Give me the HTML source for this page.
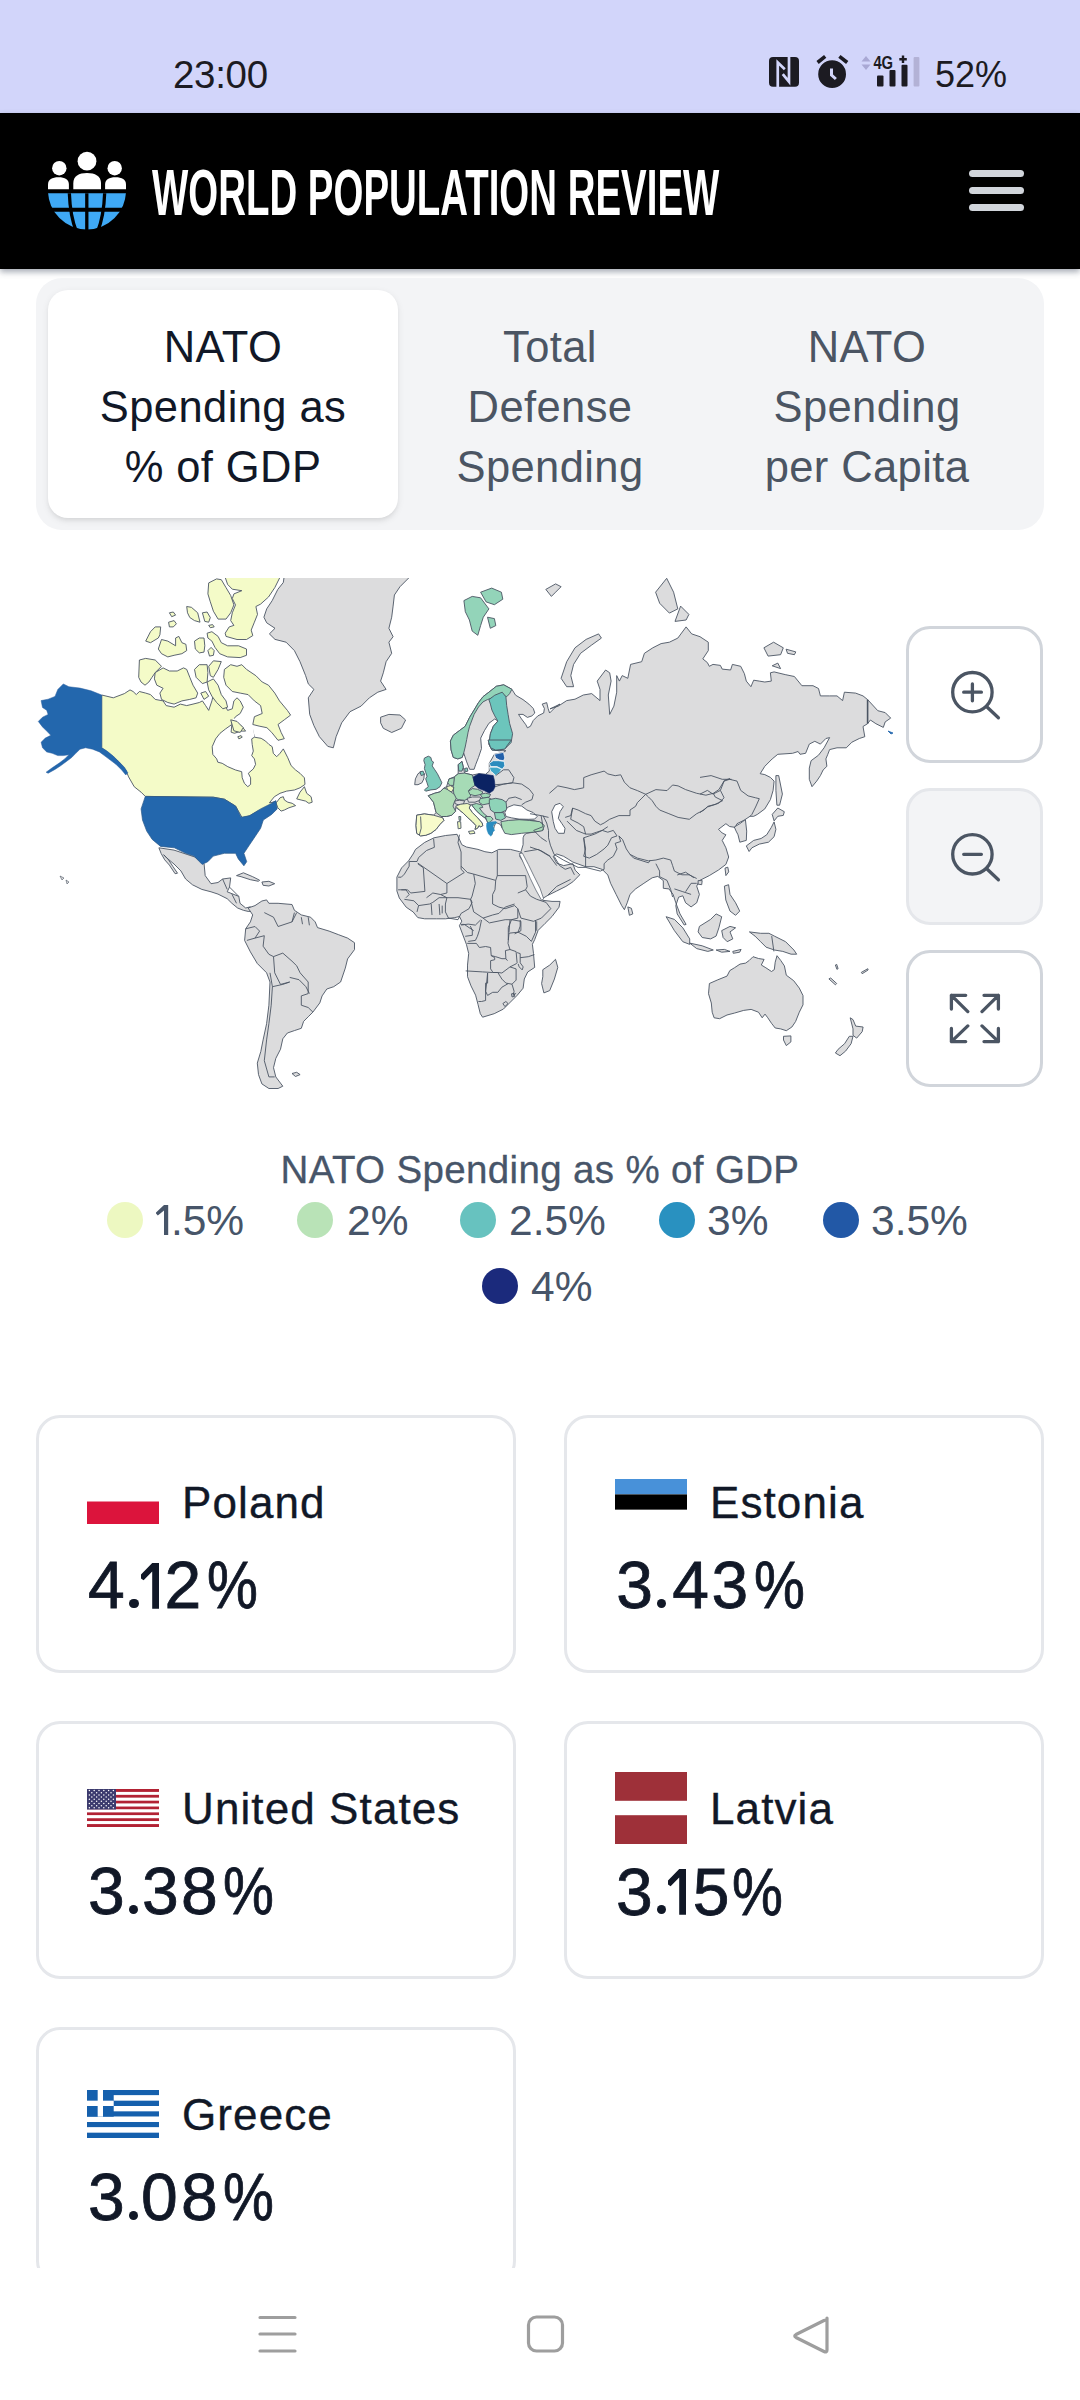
<!DOCTYPE html>
<html><head><meta charset="utf-8">
<style>
*{box-sizing:border-box;margin:0;padding:0}
html,body{width:1080px;height:2400px;overflow:hidden;background:#fff;font-family:"Liberation Sans",sans-serif}
.abs{position:absolute}
#status{left:0;top:0;width:1080px;height:113px;background:#d2d5fa}
#time{left:173px;top:52.5px;font-size:38.5px;color:#1c1b22;line-height:44px;letter-spacing:-0.3px}
#batt{left:935px;top:54.5px;font-size:36px;color:#1c1b22;line-height:40px}
#hdr{left:0;top:113px;width:1080px;height:156px;background:#000;box-shadow:0 3px 6px rgba(60,70,90,0.45)}
#title{left:152px;top:157.6px;font-size:64.5px;line-height:70px;color:#fff;font-weight:bold;transform-origin:0 0;transform:scaleX(0.596);white-space:nowrap;letter-spacing:0}
.hb{left:969px;width:55px;height:7px;border-radius:4px;background:#d1d5db}
#tabs{left:36px;top:278px;width:1008px;height:252px;background:#f3f4f6;border-radius:26px}
.tab{top:290px;height:228px;text-align:center;font-size:43.5px;line-height:60px;color:#4b5563;padding-top:26.5px;letter-spacing:0.4px}
#tab1{left:48px;width:350px;background:#fff;border-radius:20px;color:#111827;box-shadow:0 2.6px 7.9px rgba(0,0,0,0.08),0 2.6px 5.2px -2.6px rgba(0,0,0,0.08)}
#tab2{left:398px;width:304px}
#tab3{left:702px;width:330px}
.zb{left:906px;width:137px;height:137px;border:3px solid #d1d5db;border-radius:24px;background:#fff}
#legtitle{left:0;width:1080px;top:1148px;text-align:center;font-size:38.5px;line-height:44px;color:#475569;letter-spacing:0.35px;-webkit-text-stroke:0.3px #475569}
.dot{width:36px;height:36px;border-radius:50%}
.lt{font-size:42.5px;line-height:50px;color:#475569;white-space:nowrap}
.card{width:480px;height:258px;border:3px solid #e5e7eb;border-radius:24px;background:#fff}
.cname{font-size:44px;line-height:50px;color:#111827;white-space:nowrap;letter-spacing:1.1px;-webkit-text-stroke:0.35px #111827}
.cval{font-size:66px;line-height:70px;color:#111827;-webkit-text-stroke:0.8px #111827;white-space:nowrap}
#nav{left:0;top:2268px;width:1080px;height:132px;background:#fff}
</style></head><body>
<div id="status" class="abs"></div>
<div id="time" class="abs">23:00</div>
<!-- status icons -->
<svg class="abs" style="left:760px;top:40px" width="180" height="60" viewBox="0 0 180 60">
  <rect x="9" y="17" width="30" height="29.7" rx="4" fill="#1c1b22"/>
  <path d="M17.75 48 V22.5 L24.8 29.2 M29 15.5 V41.7 L22.75 34.2" stroke="#d2d5fa" stroke-width="2.7" fill="none" stroke-linejoin="miter"/>
  <path d="M57.6 22.5 L65.2 16.3 M79.4 16.3 L87.2 22.5" stroke="#1c1b22" stroke-width="3.6"/>
  <circle cx="72.1" cy="34.2" r="14.7" fill="#1c1b22" stroke="#d2d5fa" stroke-width="1.6"/>
  <path d="M71.5 28.5 V35 L75.9 39" stroke="#d2d5fa" stroke-width="3" fill="none"/>
  <path d="M101.5 21.5 l4.5 -5.5 l4.5 5.5z M101.5 24.5 l4.5 5.5 l4.5 -5.5z" fill="#a9a8d4"/>
  <text x="113.6" y="29.4" font-family="Liberation Sans" font-weight="bold" font-size="18" fill="#1c1b22" transform="translate(113.6 0) scale(0.82 1) translate(-113.6 0)" letter-spacing="-0.5">4G</text>
  <path d="M143 15.5 v7.5 M139.3 19.2 h7.5" stroke="#1c1b22" stroke-width="2.4"/>
  <rect x="117" y="35.6" width="6.5" height="11" rx="1" fill="#1c1b22"/>
  <rect x="129.5" y="30" width="6" height="16.5" rx="1" fill="#1c1b22"/>
  <rect x="141.5" y="24.8" width="6" height="21.7" rx="1" fill="#1c1b22"/>
  <rect x="153.6" y="17" width="5.8" height="29.5" rx="1" fill="#b3b2d6"/>
</svg>
<div id="batt" class="abs">52%</div>

<div id="hdr" class="abs"></div>
<!-- logo -->
<svg class="abs" style="left:44px;top:148px" width="88" height="88" viewBox="0 0 88 88">
  <defs><clipPath id="gl"><path d="M0 45.2 h88 v45 h-88z"/></clipPath></defs>
  <circle cx="43" cy="42.5" r="39" fill="#3fa9f5" clip-path="url(#gl)"/>
  <g stroke="#000" stroke-width="4" fill="none" clip-path="url(#gl)">
    <path d="M0 61.7 h88"/>
    <path d="M42.8 44 v40" stroke-width="3.3"/>
    <path d="M25.3 44 Q26 68 32.5 84 M60.7 44 Q60 68 53.5 84" stroke-width="3.3"/>
  </g>
  <circle cx="43" cy="13.2" r="9.4" fill="#fff"/>
  <circle cx="15.3" cy="20.2" r="7.2" fill="#fff"/>
  <circle cx="70.7" cy="20.2" r="7.2" fill="#fff"/>
  <path d="M29.3 41.2 V35 C29.3 28 35 24.9 43 24.9 C51 24.9 57 28 57 35 V41.2 Z" fill="#fff"/>
  <path d="M4 41.2 V36.5 C4 31.5 8 29.3 14.5 29.3 C21 29.3 24.9 31.5 24.9 36.5 V41.2Z" fill="#fff"/>
  <path d="M61.1 41.2 V36.5 C61.1 31.5 65 29.3 71.5 29.3 C78 29.3 82 31.5 82 36.5 V41.2Z" fill="#fff"/>
</svg>
<div id="title" class="abs">WORLD POPULATION REVIEW</div>
<div class="abs hb" style="top:170px"></div>
<div class="abs hb" style="top:187px"></div>
<div class="abs hb" style="top:204px"></div>

<div id="tabs" class="abs"></div>
<div id="tab1" class="abs tab">NATO<br>Spending as<br>% of GDP</div>
<div id="tab2" class="abs tab">Total<br>Defense<br>Spending</div>
<div id="tab3" class="abs tab">NATO<br>Spending<br>per Capita</div>

<svg class="abs" style="left:0;top:0" width="1080" height="1100" viewBox="0 0 1080 1100">
<defs><clipPath id="mc"><rect x="0" y="578" width="1080" height="522"/></clipPath></defs>
<g clip-path="url(#mc)" stroke-linejoin="round">
<path d="M505.9 750.7 L499.3 750.7 L491.9 750.0 L488.9 744.1 L490.4 733.7 L493.3 726.3 L497.8 721.1 L494.8 718.9 L488.9 723.3 L484.4 730.7 L480.7 738.1 L481.5 748.5 L478.5 757.4 L475.6 764.8 L474.1 769.3 L469.6 769.3 L466.7 761.9 L463.7 753.0 L462.2 757.4 L457.8 758.9 L453.3 757.4 L451.1 750.0 L450.4 741.1 L453.3 735.2 L459.3 730.7 L465.2 726.3 L469.6 717.4 L474.1 710.0 L478.5 702.6 L483.0 696.7 L488.9 692.2 L496.3 686.3 L503.7 684.8 L511.9 689.3 L515.6 695.2 L523.0 699.6 L528.9 704.1 L533.3 708.5 L534.8 713.0 L531.9 715.9 L527.4 717.4 L523.0 714.4 L518.5 714.4 L521.5 718.9 L525.9 724.8 L527.4 727.8 L530.4 726.3 L533.3 720.4 L537.8 715.9 L543.7 713.0 L544.4 708.5 L542.2 704.1 L546.7 702.6 L548.1 708.5 L549.6 713.0 L555.6 707.0 L560.0 704.1 L550.0 708.9 L558.3 706.1 L566.7 700.6 L575.0 699.2 L583.3 695.0 L591.7 693.6 L600.0 700.6 L600.0 689.4 L597.2 681.1 L605.6 670.0 L609.7 672.8 L611.1 681.1 L608.3 695.0 L609.7 714.4 L613.9 706.1 L616.7 692.2 L616.7 675.6 L619.4 681.1 L622.2 675.6 L627.8 678.3 L630.6 664.4 L641.7 661.7 L644.4 653.3 L652.8 647.8 L661.1 643.6 L669.4 642.2 L677.8 638.1 L686.1 626.9 L691.7 633.9 L700.0 636.7 L708.3 642.2 L708.3 650.6 L702.8 658.9 L707.4 662.6 L709.3 666.3 L713.0 664.4 L720.4 665.4 L722.2 669.1 L730.6 670.0 L732.4 664.4 L740.7 666.3 L744.4 673.7 L746.3 681.1 L750.9 686.7 L753.7 680.2 L759.3 681.1 L764.8 682.0 L771.3 681.1 L770.4 672.8 L774.1 671.9 L785.2 674.6 L794.4 676.5 L801.9 685.7 L813.0 685.7 L818.5 688.5 L820.4 695.9 L829.6 695.9 L837.0 695.9 L842.6 700.6 L844.4 692.2 L855.6 693.1 L863.0 695.9 L867.6 699.6 L877.8 710.7 L885.2 712.6 L890.7 718.1 L885.2 721.9 L883.3 727.4 L875.9 723.7 L870.4 720.0 L867.6 723.7 L863.0 726.5 L864.8 736.7 L859.3 738.5 L851.9 742.2 L846.3 747.8 L837.0 747.8 L829.6 749.6 L827.8 754.3 L825.9 758.9 L826.9 766.3 L823.1 770.0 L820.4 775.6 L816.7 781.1 L812.0 786.7 L809.3 779.3 L809.3 768.1 L811.1 760.7 L818.5 755.2 L824.1 747.8 L829.6 737.6 L825.9 738.5 L820.4 744.1 L814.8 741.3 L809.3 744.1 L805.6 753.3 L800.0 754.3 L798.1 751.5 L792.6 753.3 L777.8 754.3 L772.2 758.9 L764.8 766.3 L760.2 773.7 L764.8 774.6 L770.4 777.4 L774.1 781.1 L773.1 790.4 L770.4 799.6 L764.8 808.9 L757.4 814.4 L753.7 816.3 L750.0 816.3 L744.4 820.0 L737.0 823.7 L735.2 827.4 L729.6 826.5 L725.9 823.7 L718.5 829.3 L722.2 833.0 L725.9 834.8 L722.2 840.4 L725.9 847.8 L728.7 857.0 L725.9 864.4 L718.5 870.0 L709.3 875.6 L699.4 880.6 L696.7 886.1 L699.4 894.4 L696.7 902.8 L691.1 906.9 L685.6 902.8 L682.8 895.8 L678.6 897.2 L675.8 905.6 L677.2 913.9 L684.2 925.0 L686.1 924.4 L680.0 913.9 L675.8 902.8 L673.1 894.4 L668.9 888.9 L663.3 888.3 L663.3 880.6 L657.8 876.4 L652.2 877.8 L643.9 883.3 L635.6 888.9 L630.0 894.4 L627.2 902.8 L624.4 909.7 L621.7 905.6 L616.1 894.4 L610.6 883.3 L607.8 875.0 L602.2 869.4 L593.9 866.7 L585.6 866.7 L572.9 862.1 L568.2 859.1 L563.6 856.3 L556.7 854.0 L553.2 856.3 L556.7 863.2 L563.6 865.6 L572.9 863.7 L575.2 870.2 L579.8 874.8 L572.9 881.8 L565.9 886.4 L556.7 891.0 L547.4 895.6 L541.6 899.1 L535.8 888.7 L531.2 877.1 L526.6 865.6 L521.9 855.1 L521.0 851.7 L523.1 844.7 L523.1 837.8 L524.2 835.0 L526.7 833.3 L536.7 831.7 L543.3 830.0 L542.5 823.3 L535.0 820.8 L526.7 820.0 L516.7 820.0 L508.3 821.7 L501.7 825.0 L502.5 828.3 L500.0 824.2 L495.8 822.5 L494.2 826.7 L493.3 830.0 L491.7 835.0 L490.0 833.3 L487.5 828.3 L487.5 823.3 L488.0 823.0 L486.7 820.4 L485.1 818.0 L480.8 814.9 L476.3 810.7 L473.1 806.8 L471.8 804.8 L470.5 804.8 L469.2 808.1 L472.4 812.6 L477.6 817.8 L482.1 823.0 L482.8 825.6 L480.8 826.9 L478.9 825.6 L477.6 828.2 L475.0 829.4 L476.0 825.6 L472.4 821.7 L467.2 817.1 L463.3 813.2 L459.4 810.0 L455.6 807.4 L455.6 811.3 L451.7 815.2 L446.5 816.5 L441.3 816.5 L442.6 817.8 L443.9 820.4 L440.0 824.3 L436.1 829.4 L430.9 833.3 L425.7 835.3 L420.6 835.9 L416.7 833.3 L416.0 825.6 L416.7 815.2 L424.4 813.9 L433.5 815.2 L436.1 812.6 L434.8 807.4 L433.5 802.2 L428.3 795.7 L434.8 793.2 L440.0 791.9 L443.9 788.0 L446.5 786.7 L447.8 782.8 L449.1 778.9 L454.3 776.9 L458.2 773.7 L458.2 764.6 L462.0 761.4 L463.3 767.2 L464.6 773.1 L472.4 775.0 L478.9 773.7 L485.4 774.4 L489.3 771.1 L489.3 767.2 L489.3 763.3 L494.4 754.3 L503.5 752.3Z" fill="#dcdcdd" stroke="#4b5563" stroke-width="0.9"/>
<path d="M415.5 849.4 L424.7 842.4 L434.0 837.8 L445.6 835.5 L457.1 834.3 L461.8 844.7 L466.4 847.0 L478.0 849.4 L484.9 851.7 L491.9 852.8 L498.8 849.4 L510.4 849.4 L519.6 851.7 L521.0 852.4 L519.6 856.3 L524.3 863.2 L528.9 872.5 L533.5 881.8 L540.5 893.3 L542.8 900.3 L552.0 901.4 L560.1 901.4 L559.0 907.2 L552.0 916.5 L545.1 923.4 L538.1 930.4 L534.7 939.6 L532.4 944.3 L533.5 953.5 L534.7 967.4 L527.7 972.0 L524.3 979.0 L523.1 988.2 L517.3 995.2 L510.4 1002.1 L503.4 1009.1 L494.2 1013.7 L482.6 1017.2 L480.3 1013.7 L478.0 1004.4 L475.6 995.2 L471.0 985.9 L467.5 976.7 L467.5 965.1 L468.7 953.5 L466.4 944.3 L462.9 935.0 L459.4 925.7 L461.8 921.1 L459.4 916.5 L454.8 917.6 L445.6 918.8 L436.3 918.8 L424.7 918.8 L417.8 917.6 L413.1 911.9 L406.2 907.2 L399.3 898.0 L396.9 891.0 L396.9 877.1 L401.6 867.9 L408.5 860.9 L413.1 854.0Z" fill="#dcdcdd" stroke="#4b5563" stroke-width="0.9"/>
<path d="M542.8 969.7 L549.7 965.1 L555.5 959.3 L557.8 967.4 L554.4 979.0 L549.7 990.6 L543.9 992.9 L541.6 983.6 L542.8 976.7Z" fill="#dcdcdd" stroke="#4b5563" stroke-width="0.9"/>
<path d="M519.2 853.5 L522.4 853.1 L528.4 864.6 L534.0 876.2 L540.0 888.2 L543.7 898.9 L541.6 900.3 L535.8 889.9 L530.3 878.5 L525.2 866.9Z" fill="#fff" stroke="#4b5563" stroke-width="0.7"/>
<path d="M551.7 811.7 L555.0 805.0 L560.0 803.3 L563.3 806.7 L560.0 811.7 L558.3 818.3 L561.7 823.3 L565.0 828.3 L564.2 833.3 L558.3 833.3 L555.0 828.3 L553.3 821.7Z" fill="#fff" stroke="#4b5563" stroke-width="0.9"/>
<path d="M158.9 847.8 L174.0 850.1 L187.9 854.7 L194.8 857.0 L204.1 864.0 L205.2 875.6 L211.0 883.7 L218.0 882.5 L222.6 879.0 L230.7 877.9 L229.5 887.1 L227.2 891.8 L233.0 894.1 L238.8 896.4 L240.0 903.3 L245.7 908.0 L250.4 906.8 L252.7 911.4 L248.1 911.4 L243.4 910.3 L237.6 908.0 L231.9 903.3 L227.2 898.7 L218.0 894.1 L211.0 891.8 L201.8 889.4 L192.5 884.8 L185.6 879.0 L180.9 870.9 L174.0 864.0 L167.0 858.2 L163.6 854.7 L168.2 859.4 L172.8 866.3 L177.5 873.2 L175.1 873.7 L169.4 865.1 L164.7 859.8 L161.2 853.6Z" fill="#dcdcdd" stroke="#4b5563" stroke-width="0.9"/>
<path d="M236.5 875.6 L243.4 872.8 L252.7 876.7 L259.6 880.2 L258.5 881.3 L250.4 879.7 L241.1 876.7Z" fill="#dcdcdd" stroke="#4b5563" stroke-width="0.9"/>
<path d="M261.9 882.0 L268.9 881.3 L274.7 883.7 L268.9 886.0 L263.1 885.3Z" fill="#dcdcdd" stroke="#4b5563" stroke-width="0.9"/>
<path d="M248.1 908.0 L255.0 905.6 L261.9 901.0 L266.6 899.9 L268.9 903.3 L278.1 903.3 L292.0 904.5 L294.4 910.3 L301.3 914.9 L310.6 917.2 L315.2 921.9 L317.5 927.6 L329.1 931.1 L338.3 934.6 L347.6 938.1 L354.5 942.7 L354.5 949.6 L347.6 958.9 L345.3 968.1 L340.6 982.0 L333.7 986.7 L326.8 989.0 L322.1 995.9 L319.8 1002.9 L312.9 1012.1 L308.2 1016.8 L303.6 1021.4 L301.3 1028.3 L294.4 1030.6 L287.4 1033.0 L282.8 1038.8 L280.5 1049.2 L275.8 1058.4 L273.5 1067.7 L275.8 1076.9 L282.8 1086.2 L278.1 1088.5 L268.9 1088.5 L261.9 1083.9 L258.5 1074.6 L257.3 1063.1 L260.8 1051.5 L263.1 1039.9 L266.6 1023.7 L268.9 1005.2 L270.0 982.0 L266.6 972.8 L257.3 963.5 L250.4 951.9 L244.6 940.4 L245.7 928.8 L250.4 921.9 L252.7 914.9Z" fill="#dcdcdd" stroke="#4b5563" stroke-width="0.9"/>
<path d="M292.0 1073.5 L296.7 1072.3 L300.1 1074.6 L295.5 1076.5Z" fill="#dcdcdd" stroke="#4b5563" stroke-width="0.9"/>
<path d="M284.7 572.8 L413.9 572.8 L400.0 586.7 L394.4 595.0 L393.1 606.1 L391.7 617.2 L388.9 628.3 L393.1 636.7 L388.9 642.2 L391.7 653.3 L386.1 661.7 L383.3 672.8 L380.6 681.1 L386.1 689.4 L377.8 692.2 L369.4 697.8 L361.1 706.1 L350.0 711.7 L341.7 722.8 L336.1 736.7 L333.3 747.8 L327.8 746.4 L319.4 736.7 L313.9 725.6 L309.7 714.4 L308.3 697.8 L313.9 689.4 L308.3 683.9 L305.6 675.6 L300.0 661.7 L294.4 650.6 L286.1 642.2 L275.0 639.4 L269.4 633.9 L275.0 628.3 L266.7 622.8 L263.9 617.2 L266.7 608.9 L272.2 600.6 L277.8 589.4 L283.3 582.5Z" fill="#dcdcdd" stroke="#4b5563" stroke-width="0.9"/>
<path d="M380.6 717.2 L388.9 714.4 L400.0 715.0 L405.6 720.0 L401.4 728.3 L391.7 732.5 L383.3 728.3 L380.6 722.8Z" fill="#dcdcdd" stroke="#4b5563" stroke-width="0.9"/>
<path d="M561.1 678.3 L566.7 661.7 L575.0 647.8 L586.1 639.4 L598.6 633.9 L601.4 638.1 L591.7 645.0 L580.6 653.3 L573.6 664.4 L570.8 675.6 L573.6 686.7 L566.7 686.7Z" fill="#dcdcdd" stroke="#4b5563" stroke-width="0.9"/>
<path d="M545.8 589.4 L555.6 583.9 L561.1 586.7 L555.6 592.2 L551.4 596.4Z" fill="#dcdcdd" stroke="#4b5563" stroke-width="0.9"/>
<path d="M655.6 592.2 L666.7 578.3 L673.6 592.2 L677.8 608.9 L669.4 613.1 L659.7 603.3Z" fill="#dcdcdd" stroke="#4b5563" stroke-width="0.9"/>
<path d="M675.0 621.4 L680.6 606.1 L688.9 614.4 L686.1 620.0Z" fill="#dcdcdd" stroke="#4b5563" stroke-width="0.9"/>
<path d="M763.9 647.8 L773.6 642.2 L783.3 647.8 L780.6 654.7 L768.1 656.1Z" fill="#dcdcdd" stroke="#4b5563" stroke-width="0.9"/>
<path d="M786.1 649.2 L795.8 651.9 L794.4 654.7 L787.5 653.3Z" fill="#dcdcdd" stroke="#4b5563" stroke-width="0.9"/>
<path d="M772.2 665.8 L777.8 663.1 L780.6 668.6Z" fill="#dcdcdd" stroke="#4b5563" stroke-width="0.9"/>
<path d="M734.3 827.0 L739.8 823.7 L745.4 819.6 L746.7 831.1 L746.3 840.4 L739.8 842.2 L738.0 834.8 L736.1 831.1Z" fill="#dcdcdd" stroke="#4b5563" stroke-width="0.9"/>
<path d="M775.9 775.6 L778.7 775.6 L782.4 794.1 L779.6 805.2 L776.9 805.2 L775.9 790.4Z" fill="#dcdcdd" stroke="#4b5563" stroke-width="0.9"/>
<path d="M772.2 814.4 L777.8 808.0 L784.3 811.7 L783.3 815.4 L777.8 816.3 L774.1 820.9Z" fill="#dcdcdd" stroke="#4b5563" stroke-width="0.9"/>
<path d="M774.1 821.9 L775.9 829.3 L774.1 836.7 L768.5 842.2 L759.3 844.1 L751.9 847.8 L749.1 851.5 L746.3 845.9 L753.7 840.4 L761.1 838.5 L766.7 834.8 L771.3 827.4Z" fill="#dcdcdd" stroke="#4b5563" stroke-width="0.9"/>
<path d="M725.0 868.1 L727.8 867.2 L728.7 871.9 L725.9 875.6Z" fill="#dcdcdd" stroke="#4b5563" stroke-width="0.9"/>
<path d="M724.4 886.1 L728.6 884.7 L730.0 894.4 L735.6 902.8 L739.7 911.1 L735.6 915.3 L730.0 911.1 L725.8 900.0Z" fill="#dcdcdd" stroke="#4b5563" stroke-width="0.9"/>
<path d="M627.8 906.9 L631.4 908.3 L632.8 913.9 L629.4 915.3Z" fill="#dcdcdd" stroke="#4b5563" stroke-width="0.9"/>
<path d="M698.1 880.6 L702.2 880.6 L701.7 884.7 L698.1 884.2Z" fill="#dcdcdd" stroke="#4b5563" stroke-width="0.9"/>
<path d="M666.1 916.7 L674.4 919.4 L682.8 927.8 L689.7 938.9 L689.7 944.4 L682.8 941.7 L674.4 930.6Z" fill="#dcdcdd" stroke="#4b5563" stroke-width="0.9"/>
<path d="M689.7 943.1 L702.2 945.8 L713.3 950.0 L707.8 951.4 L696.7 948.6Z" fill="#dcdcdd" stroke="#4b5563" stroke-width="0.9"/>
<path d="M699.4 926.4 L710.6 919.4 L716.1 913.9 L721.7 916.7 L718.9 927.8 L716.1 936.1 L710.6 938.9 L702.2 937.5 L698.1 931.9Z" fill="#dcdcdd" stroke="#4b5563" stroke-width="0.9"/>
<path d="M721.7 930.6 L730.0 926.4 L735.6 927.8 L730.0 931.9 L732.8 938.9 L727.2 941.7 L723.1 937.5Z" fill="#dcdcdd" stroke="#4b5563" stroke-width="0.9"/>
<path d="M749.4 931.9 L760.6 933.3 L768.9 933.3 L774.4 936.1 L785.6 941.7 L793.9 950.0 L796.7 954.2 L791.1 954.2 L782.8 951.4 L774.4 950.0 L766.1 947.2 L760.6 941.7 L755.0 936.1Z" fill="#dcdcdd" stroke="#4b5563" stroke-width="0.9"/>
<path d="M716.1 950.0 L724.4 949.4 L730.0 951.4 L721.7 952.2Z" fill="#dcdcdd" stroke="#4b5563" stroke-width="0.9"/>
<path d="M732.8 951.4 L741.1 949.4 L739.7 952.2 L733.3 953.3Z" fill="#dcdcdd" stroke="#4b5563" stroke-width="0.9"/>
<path d="M709.4 983.5 L717.8 979.8 L727.0 976.1 L729.8 970.6 L734.4 967.8 L740.0 964.1 L745.6 963.1 L749.3 960.4 L753.0 956.7 L758.5 958.5 L764.1 959.4 L761.3 965.0 L765.9 967.8 L771.5 971.5 L774.3 969.6 L775.2 962.2 L777.0 955.7 L780.7 960.4 L784.4 965.9 L786.3 975.2 L793.7 980.7 L799.3 988.1 L803.0 995.6 L803.0 1004.8 L799.3 1012.2 L795.6 1021.5 L791.9 1027.0 L786.3 1030.7 L780.7 1028.9 L775.2 1028.0 L771.5 1023.3 L767.8 1017.8 L765.0 1014.1 L762.2 1017.8 L758.5 1012.2 L751.1 1009.4 L743.7 1010.4 L734.4 1013.1 L727.0 1015.0 L719.6 1018.7 L714.1 1017.8 L712.2 1012.2 L711.3 1003.0 L708.5 993.7Z" fill="#dcdcdd" stroke="#4b5563" stroke-width="0.9"/>
<path d="M783.5 1036.3 L790.9 1035.9 L790.9 1041.9 L786.3 1045.6 L783.5 1040.0Z" fill="#dcdcdd" stroke="#4b5563" stroke-width="0.9"/>
<path d="M850.2 1017.8 L853.0 1019.6 L855.7 1026.1 L863.1 1027.0 L862.2 1031.7 L856.7 1038.1 L853.0 1035.4 L853.0 1028.9Z" fill="#dcdcdd" stroke="#4b5563" stroke-width="0.9"/>
<path d="M849.3 1036.3 L853.0 1036.3 L851.1 1043.7 L845.6 1051.1 L840.0 1055.7 L835.4 1053.0 L838.1 1049.3 L844.6 1043.7Z" fill="#dcdcdd" stroke="#4b5563" stroke-width="0.9"/>
<path d="M828.9 978.9 L830.7 978.0 L836.7 983.5 L835.4 984.8Z" fill="#dcdcdd" stroke="#4b5563" stroke-width="0.9"/>
<path d="M861.3 972.4 L867.8 968.7 L868.1 970.0 L862.2 973.7Z" fill="#dcdcdd" stroke="#4b5563" stroke-width="0.9"/>
<path d="M835.4 965.0 L836.7 964.4 L838.1 968.7 L836.9 969.3Z" fill="#dcdcdd" stroke="#4b5563" stroke-width="0.9"/>
<path d="M101.7 695.0 L113.3 697.8 L124.4 693.6 L130.0 689.9 L133.1 691.5 L136.3 694.6 L139.4 691.5 L145.7 693.1 L150.5 694.6 L155.2 699.4 L163.1 700.9 L166.2 705.6 L174.1 707.2 L180.4 704.1 L186.7 705.6 L193.0 704.1 L199.3 702.5 L202.4 700.9 L205.6 705.6 L208.7 710.4 L211.9 700.9 L213.4 694.6 L218.1 699.4 L224.4 704.1 L227.6 710.4 L232.3 708.8 L233.9 700.9 L237.0 697.8 L240.2 700.9 L243.3 707.2 L240.2 713.5 L235.5 716.7 L233.3 720.0 L251.7 725.6 L254.4 737.2 L261.1 738.3 L265.6 741.1 L268.9 744.4 L272.2 746.7 L273.3 753.3 L276.7 756.7 L280.0 753.3 L283.3 748.9 L287.8 757.8 L291.1 765.6 L295.6 770.0 L300.0 773.3 L304.4 777.8 L305.0 784.4 L300.0 787.8 L294.4 790.0 L286.7 791.1 L280.0 793.3 L274.4 796.7 L269.4 802.8 L275.6 801.7 L277.8 807.8 L281.1 811.1 L284.4 810.0 L288.9 807.8 L295.6 805.6 L292.2 803.3 L287.8 802.2 L284.4 800.0 L283.3 796.7 L280.0 797.8 L276.7 802.2 L273.3 802.2 L268.9 808.9 L257.8 811.1 L250.0 815.6 L242.2 817.8 L235.6 806.1 L224.4 799.2 L213.3 797.2 L145.3 796.4 L141.1 792.2 L134.2 786.7 L128.6 776.9 L125.8 770.0 L118.9 761.7 L110.6 754.7 L101.7 747.8Z" fill="#f4fbc8" stroke="#4b5563" stroke-width="0.9"/>
<path d="M233.3 718.3 L252.8 723.9 L254.4 737.2 L251.7 738.9 L252.2 744.4 L253.3 751.1 L251.7 755.6 L254.4 758.9 L255.6 764.4 L253.3 768.9 L248.3 773.3 L250.6 777.8 L250.6 784.4 L247.8 786.7 L244.4 783.3 L242.2 777.8 L241.7 771.7 L235.6 770.0 L227.8 766.7 L222.2 763.3 L217.8 762.2 L216.7 758.9 L212.8 754.4 L212.2 746.7 L215.6 738.9 L220.0 733.3 L225.6 728.9 L231.1 725.0Z" fill="#fff" stroke="none" stroke-width="0"/>
<path d="M254.4 737.2 L251.7 738.9 L252.2 744.4 L253.3 751.1 L251.7 755.6 L254.4 758.9 L255.6 764.4 L253.3 768.9 L248.3 773.3 L250.6 777.8 L250.6 784.4 L247.8 786.7 L244.4 783.3 L242.2 777.8 L241.7 771.7 L235.6 770.0 L227.8 766.7 L222.2 763.3 L217.8 762.2 L216.7 758.9 L212.8 754.4 L212.2 746.7 L215.6 738.9 L220.0 733.3 L225.6 728.9 L231.1 725.0 L231.1 725.0" fill="none" stroke="#4b5563" stroke-width="0.9"/>
<path d="M232.2 721.1 L235.6 721.7 L242.2 726.7 L245.6 731.1 L241.1 731.1 L234.4 733.3 L231.1 732.2Z" fill="#f4fbc8" stroke="#4b5563" stroke-width="0.9"/>
<path d="M296.7 798.9 L300.0 792.2 L304.4 786.7 L306.7 793.3 L311.1 796.7 L312.2 802.2 L308.9 803.3 L305.6 801.1 L301.1 800.0Z" fill="#f4fbc8" stroke="#4b5563" stroke-width="0.9"/>
<path d="M237.8 736.7 L241.1 735.6 L242.2 737.2 L238.9 738.9Z" fill="#f4fbc8" stroke="#4b5563" stroke-width="0.9"/>
<path d="M208.7 582.9 L216.6 578.9 L221.3 579.7 L226.0 587.6 L230.7 595.5 L233.9 604.9 L230.7 612.8 L226.0 619.1 L218.1 619.1 L213.4 611.2 L210.3 601.8 L207.9 593.9Z" fill="#f4fbc8" stroke="#4b5563" stroke-width="0.9"/>
<path d="M224.4 575.0 L281.1 575.0 L274.8 587.6 L268.5 597.0 L260.6 604.1 L255.9 606.5 L257.5 614.4 L254.4 622.2 L251.2 630.1 L252.8 635.6 L246.5 639.5 L237.0 639.5 L226.0 636.4 L225.2 633.2 L229.2 626.9 L233.9 625.4 L230.7 620.6 L232.3 612.8 L235.5 604.9 L232.3 598.6 L233.9 593.9 L241.8 590.7 L232.3 589.2 L227.6 584.4Z" fill="#f4fbc8" stroke="#4b5563" stroke-width="0.9"/>
<path d="M207.1 633.2 L211.9 631.7 L218.1 636.4 L221.3 642.7 L227.6 645.8 L238.6 645.8 L246.5 649.0 L246.5 655.3 L240.2 657.6 L227.6 656.9 L219.7 653.7 L215.0 647.4 L211.9 641.1 L207.9 638.0Z" fill="#f4fbc8" stroke="#4b5563" stroke-width="0.9"/>
<path d="M186.7 606.5 L191.4 607.3 L197.7 612.8 L200.0 622.2 L194.5 620.6 L189.8 617.5 L187.5 612.8Z" fill="#f4fbc8" stroke="#4b5563" stroke-width="0.9"/>
<path d="M202.4 612.8 L207.1 612.0 L210.3 617.5 L208.7 622.2 L204.8 621.4Z" fill="#f4fbc8" stroke="#4b5563" stroke-width="0.9"/>
<path d="M208.7 625.4 L212.6 624.6 L214.2 626.9 L210.3 627.7Z" fill="#f4fbc8" stroke="#4b5563" stroke-width="0.9"/>
<path d="M169.4 612.8 L173.3 612.0 L175.6 615.1 L171.7 616.7Z" fill="#f4fbc8" stroke="#4b5563" stroke-width="0.9"/>
<path d="M168.6 622.2 L174.1 620.6 L176.4 623.8 L173.3 626.9 L169.4 626.9Z" fill="#f4fbc8" stroke="#4b5563" stroke-width="0.9"/>
<path d="M145.7 641.1 L150.5 631.7 L155.2 626.9 L160.7 626.9 L159.9 634.8 L158.3 638.0 L150.5 642.7Z" fill="#f4fbc8" stroke="#4b5563" stroke-width="0.9"/>
<path d="M158.3 649.0 L161.5 639.5 L167.8 641.1 L175.6 645.8 L175.6 638.0 L178.8 636.4 L181.9 642.7 L185.9 644.3 L186.7 650.6 L181.9 653.7 L174.1 655.3 L167.8 656.9 L161.5 653.7Z" fill="#f4fbc8" stroke="#4b5563" stroke-width="0.9"/>
<path d="M194.5 641.1 L199.3 638.0 L204.0 638.0 L204.8 645.8 L204.0 652.1 L199.3 652.9 L195.3 649.0Z" fill="#f4fbc8" stroke="#4b5563" stroke-width="0.9"/>
<path d="M207.9 650.6 L211.1 647.4 L214.2 650.6 L213.4 655.3 L209.5 656.1Z" fill="#f4fbc8" stroke="#4b5563" stroke-width="0.9"/>
<path d="M139.4 660.0 L145.7 658.4 L155.2 660.0 L161.5 666.3 L155.2 672.6 L152.0 677.3 L148.9 682.0 L145.0 685.2 L141.0 682.0 L138.7 677.3Z" fill="#f4fbc8" stroke="#4b5563" stroke-width="0.9"/>
<path d="M155.2 672.6 L163.1 667.9 L169.4 671.0 L177.2 671.0 L183.5 667.9 L186.7 669.4 L189.8 677.3 L193.0 685.2 L197.7 693.1 L196.1 697.8 L189.8 699.4 L181.9 700.9 L174.1 704.1 L167.8 702.5 L161.5 699.4 L159.9 693.1 L163.1 688.3 L156.8 685.2 L154.4 678.9Z" fill="#f4fbc8" stroke="#4b5563" stroke-width="0.9"/>
<path d="M194.5 669.4 L199.3 664.7 L207.1 664.7 L207.9 672.6 L207.1 682.0 L202.4 683.6 L196.1 677.3Z" fill="#f4fbc8" stroke="#4b5563" stroke-width="0.9"/>
<path d="M208.7 666.3 L213.4 660.8 L221.3 661.6 L218.1 669.4 L213.4 677.3 L210.3 675.7Z" fill="#f4fbc8" stroke="#4b5563" stroke-width="0.9"/>
<path d="M207.1 682.0 L213.4 678.9 L218.1 685.2 L221.3 694.6 L226.0 700.9 L227.6 707.2 L222.9 708.8 L216.6 702.5 L211.9 696.2 L208.7 689.9Z" fill="#f4fbc8" stroke="#4b5563" stroke-width="0.9"/>
<path d="M224.4 669.4 L230.7 664.7 L237.0 666.3 L241.8 664.7 L246.5 669.4 L255.9 675.7 L262.2 682.0 L268.5 685.2 L274.8 693.1 L279.5 700.9 L287.4 710.4 L290.6 715.1 L284.3 719.8 L278.0 724.5 L281.1 732.4 L284.3 738.7 L278.0 740.3 L271.7 732.4 L266.9 727.7 L259.1 726.1 L252.8 724.5 L254.4 716.7 L262.2 713.5 L260.6 705.6 L254.4 700.9 L248.1 694.6 L240.2 693.1 L232.3 691.5 L226.0 685.2 L223.7 677.3Z" fill="#f4fbc8" stroke="#4b5563" stroke-width="0.9"/>
<path d="M230.7 719.8 L237.0 721.4 L243.3 727.7 L240.2 732.4 L233.9 730.8Z" fill="#f4fbc8" stroke="#4b5563" stroke-width="0.9"/>
<path d="M200.8 693.1 L205.6 691.5 L208.7 696.2 L204.0 699.4Z" fill="#f4fbc8" stroke="#4b5563" stroke-width="0.9"/>
<path d="M63.3 683.9 L68.9 686.7 L80.0 688.1 L91.1 690.8 L101.7 695.0 L101.7 747.8 L106.4 750.6 L113.3 756.1 L118.9 761.7 L124.4 767.2 L127.8 772.8 L125.8 775.0 L121.7 770.0 L116.1 764.4 L110.6 760.3 L105.0 756.1 L99.4 751.9 L92.5 749.2 L85.6 747.8 L80.0 749.2 L75.8 753.3 L71.7 757.5 L66.1 761.7 L60.6 765.8 L55.0 769.4 L48.1 773.3 L46.1 772.2 L52.2 767.8 L59.2 763.1 L64.7 758.9 L68.9 754.7 L63.3 755.6 L57.8 755.6 L52.2 753.3 L46.7 751.9 L42.5 747.8 L41.1 742.2 L45.3 738.1 L50.8 735.3 L46.7 731.1 L42.5 726.9 L38.3 721.4 L42.5 717.2 L48.1 714.4 L46.7 710.3 L42.5 707.5 L41.1 700.6 L48.1 699.2 L55.0 696.4 L57.8 689.4Z" fill="#2367ad" stroke="#2a5f9e" stroke-width="0.5"/>
<path d="M145.3 796.4 L213.3 797.2 L224.4 799.2 L235.6 806.1 L241.1 817.2 L249.4 815.8 L260.6 808.9 L271.7 803.3 L275.8 800.6 L277.2 808.9 L271.7 814.4 L263.3 820.0 L260.6 828.3 L255.0 836.7 L249.4 845.0 L243.9 853.3 L246.7 861.7 L243.9 865.8 L238.3 858.9 L235.6 853.3 L224.4 853.3 L213.3 856.1 L207.8 861.7 L202.2 864.4 L193.9 856.1 L185.6 853.3 L174.4 847.8 L160.6 846.4 L152.2 839.4 L146.7 831.1 L142.5 820.0 L141.1 808.9Z" fill="#2367ad" stroke="#2d5a8a" stroke-width="0.7"/>
<path d="M60.0 876.0 L64.0 878.0 L62.0 880.0Z" fill="#dcdcdd" stroke="#4b5563" stroke-width="0.6"/>
<path d="M66.0 880.0 L69.0 882.0 L67.0 884.0Z" fill="#dcdcdd" stroke="#4b5563" stroke-width="0.6"/>
<path d="M463.9 600.6 L472.2 596.4 L480.6 597.8 L488.9 608.9 L483.3 617.2 L480.6 625.6 L477.8 635.3 L472.2 631.1 L469.4 620.0 L465.3 611.7Z" fill="#93d4b9" stroke="#4b5563" stroke-width="0.9"/>
<path d="M480.6 592.2 L491.7 588.1 L501.4 592.2 L502.8 599.2 L494.4 604.7 L486.1 601.9Z" fill="#93d4b9" stroke="#4b5563" stroke-width="0.9"/>
<path d="M487.5 617.2 L494.4 618.6 L495.8 625.6 L490.3 628.3Z" fill="#93d4b9" stroke="#4b5563" stroke-width="0.9"/>
<path d="M450.4 741.1 L453.3 735.2 L459.3 730.7 L465.2 726.3 L469.6 717.4 L474.1 710.0 L478.5 702.6 L483.0 696.7 L488.9 692.2 L496.3 686.3 L503.7 684.8 L511.9 689.3 L509.6 693.7 L506.7 696.7 L502.2 695.2 L497.8 698.1 L491.9 698.1 L487.4 699.6 L483.0 701.9 L478.5 707.0 L474.1 714.4 L469.6 726.3 L468.1 732.2 L466.7 739.6 L465.2 747.0 L463.7 753.0 L462.2 757.4 L457.8 758.9 L453.3 757.4 L451.1 750.0Z" fill="#93d4b9" stroke="#4b5563" stroke-width="0.9"/>
<path d="M488.9 699.6 L494.8 695.2 L502.2 692.2 L505.9 696.7 L506.7 705.6 L508.1 714.4 L509.6 723.3 L512.6 733.7 L511.1 742.6 L505.2 748.5 L499.3 750.7 L491.9 750.0 L488.9 744.1 L490.4 733.7 L493.3 726.3 L497.8 721.1 L494.8 715.9 L491.9 710.0 L490.4 704.1Z" fill="#6cc5bc" stroke="#4b5563" stroke-width="0.9"/>
<path d="M488.0 740.0 L511.3 740.0 L507.4 745.2 L504.8 749.1 L495.7 750.1 L490.6 747.8Z" fill="#6cc5bc" stroke="#4b5563" stroke-width="0.9"/>
<path d="M494.4 754.3 L503.5 752.3 L504.8 758.1 L503.5 760.7 L499.6 760.1 L495.7 758.1Z" fill="#2361aa" stroke="#fff" stroke-width="0.7"/>
<path d="M489.3 763.3 L493.2 760.7 L498.3 760.7 L504.2 761.4 L504.8 765.9 L502.2 769.2 L497.0 766.6 L490.6 766.6Z" fill="#2b8cbe" stroke="#fff" stroke-width="0.7"/>
<path d="M489.3 767.2 L497.0 767.2 L501.6 769.2 L499.6 772.4 L495.7 775.6 L493.2 773.1 L490.6 771.1Z" fill="#3fa6c7" stroke="#fff" stroke-width="0.7"/>
<path d="M458.2 764.6 L462.0 761.4 L463.3 767.2 L462.0 771.1 L458.8 771.1Z" fill="#86d0bb" stroke="#4b5563" stroke-width="0.9"/>
<path d="M464.6 768.5 L467.2 767.9 L467.9 771.1 L465.3 771.8Z" fill="#86d0bb" stroke="#4b5563" stroke-width="0.9"/>
<path d="M454.3 776.9 L458.2 773.7 L464.6 773.1 L472.4 775.0 L473.7 780.2 L475.0 785.4 L471.1 788.0 L468.5 790.6 L471.1 794.4 L469.2 798.3 L464.6 800.3 L458.2 799.6 L454.3 797.7 L453.6 791.9 L453.0 785.4Z" fill="#a6dbb6" stroke="#4b5563" stroke-width="0.9"/>
<path d="M449.1 778.9 L454.3 777.6 L453.6 785.4 L449.7 785.4 L447.8 782.8Z" fill="#a6dbb6" stroke="#4b5563" stroke-width="0.9"/>
<path d="M446.5 786.7 L450.4 785.6 L454.0 787.7 L451.9 791.9 L447.8 790.8Z" fill="#eef8c1" stroke="#4b5563" stroke-width="0.9"/>
<path d="M424.4 758.1 L428.3 756.2 L430.9 757.5 L431.6 760.7 L433.5 762.0 L432.2 765.9 L434.8 769.8 L437.4 773.7 L440.0 778.9 L441.9 782.8 L440.0 786.7 L436.1 789.3 L430.9 789.9 L425.7 791.2 L424.4 789.9 L428.3 786.7 L427.0 782.8 L425.7 778.9 L427.0 776.3 L425.7 772.4 L424.4 768.5 L425.1 764.6 L423.8 760.7Z" fill="#7ccbbb" stroke="#4b5563" stroke-width="0.9"/>
<path d="M414.7 784.7 L415.4 778.9 L418.0 773.7 L421.2 771.8 L424.4 773.7 L423.8 778.9 L421.9 782.8 L418.0 784.7Z" fill="#dcdcdd" stroke="#4b5563" stroke-width="0.9"/>
<path d="M419.9 771.8 L423.1 771.1 L424.4 774.4 L421.2 775.6Z" fill="#7ccbbb" stroke="#4b5563" stroke-width="0.9"/>
<path d="M428.3 795.7 L434.8 793.2 L440.0 791.9 L443.9 788.0 L447.1 789.3 L451.0 791.9 L454.3 794.4 L456.2 798.3 L454.3 802.2 L453.0 806.1 L455.6 811.3 L451.7 815.2 L446.5 816.5 L441.3 816.5 L436.1 812.6 L434.8 807.4 L433.5 802.2Z" fill="#afddb6" stroke="#4b5563" stroke-width="0.9"/>
<path d="M416.7 815.2 L424.4 813.9 L433.5 815.2 L442.6 817.8 L443.9 820.4 L440.0 824.3 L436.1 829.4 L430.9 833.3 L425.7 835.3 L420.6 835.9 L416.7 833.3 L416.0 825.6Z" fill="#f7fbcb" stroke="#4b5563" stroke-width="0.9"/>
<path d="M420.6 816.5 L421.2 828.2 L419.3 835.3" fill="none" stroke="#4b5563" stroke-width="0.9"/>
<path d="M468.5 791.2 L472.4 788.6 L477.6 789.3 L482.8 791.9 L481.5 794.4 L475.0 795.7 L469.8 794.4Z" fill="#a6dbb6" stroke="#4b5563" stroke-width="0.9"/>
<path d="M480.2 794.4 L485.4 793.2 L490.6 794.4 L489.3 797.0 L482.8 798.3Z" fill="#9fd9b7" stroke="#4b5563" stroke-width="0.9"/>
<path d="M467.2 798.3 L472.4 797.0 L480.2 797.0 L481.5 799.6 L475.0 802.2 L468.5 802.2Z" fill="#dcdcdd" stroke="#4b5563" stroke-width="0.9"/>
<path d="M454.9 800.9 L459.4 800.3 L464.6 800.9 L463.3 804.2 L458.2 804.8 L454.9 803.5Z" fill="#dcdcdd" stroke="#4b5563" stroke-width="0.9"/>
<path d="M480.2 798.6 L488.0 797.3 L491.9 799.6 L489.3 803.5 L482.8 804.8 L478.9 802.2Z" fill="#9fd9b7" stroke="#4b5563" stroke-width="0.9"/>
<path d="M489.3 799.6 L495.7 798.3 L502.2 799.6 L506.1 802.2 L506.8 810.0 L500.9 812.6 L494.4 812.6 L490.6 810.0 L489.3 804.8Z" fill="#8ed3b8" stroke="#4b5563" stroke-width="0.9"/>
<path d="M494.4 812.6 L503.5 812.6 L505.5 817.8 L500.9 820.4 L495.7 819.1Z" fill="#8ed3b8" stroke="#4b5563" stroke-width="0.9"/>
<path d="M455.6 806.1 L460.7 804.2 L467.2 803.5 L470.5 804.8 L469.2 808.1 L472.4 812.6 L477.6 817.8 L482.1 823.0 L482.8 825.6 L480.8 826.9 L478.9 825.6 L477.6 828.2 L475.0 829.4 L476.0 825.6 L472.4 821.7 L467.2 817.1 L463.3 813.2 L459.4 810.0Z" fill="#eef8c1" stroke="#4b5563" stroke-width="0.9"/>
<path d="M468.5 831.4 L473.7 830.7 L475.0 833.3 L469.8 834.0Z" fill="#eef8c1" stroke="#4b5563" stroke-width="0.9"/>
<path d="M457.5 821.7 L460.7 821.7 L461.0 828.2 L458.2 828.8Z" fill="#eef8c1" stroke="#4b5563" stroke-width="0.9"/>
<path d="M458.8 816.5 L460.7 816.5 L460.7 820.4 L459.2 820.4Z" fill="#afddb6" stroke="#4b5563" stroke-width="0.9"/>
<path d="M471.8 804.8 L476.3 803.5 L481.5 804.8 L482.8 807.4 L479.5 808.1 L482.8 812.6 L487.3 816.5 L485.1 818.0 L480.8 814.9 L476.3 810.7 L473.1 806.8Z" fill="#9fd9b7" stroke="#4b5563" stroke-width="0.9"/>
<path d="M485.4 816.5 L490.6 816.5 L493.2 819.1 L490.6 821.7 L488.0 823.0 L486.7 820.4Z" fill="#9fd9b7" stroke="#4b5563" stroke-width="0.9"/>
<path d="M486.8 823.0 L491.0 822.0 L496.0 821.5 L496.6 823.0 L494.0 824.3 L493.0 826.5 L494.6 830.5 L493.0 831.5 L492.0 834.0 L491.0 836.2 L488.5 834.0 L487.0 830.0 L486.5 826.0Z" fill="#2a8cc0" stroke="#2a8cc0" stroke-width="0.5"/>
<path d="M500.9 821.7 L508.7 820.4 L519.1 819.7 L529.4 820.4 L539.8 821.7 L544.4 825.6 L542.4 830.7 L534.6 832.0 L521.7 833.3 L511.3 834.6 L504.8 833.3 L502.2 828.2Z" fill="#a9dcb6" stroke="#4b5563" stroke-width="0.9"/>
<path d="M507.4 807.4 L513.9 804.8 L521.7 806.1 L526.9 810.0 L533.3 812.6 L537.2 816.5 L534.6 819.1 L528.2 819.3 L519.1 819.1 L511.3 817.8 L506.1 816.5 L504.8 812.6Z" fill="#fff" stroke="#4b5563" stroke-width="0.9"/>
<path d="M473.1 776.9 L478.9 773.7 L485.4 774.4 L493.2 775.6 L494.4 780.2 L495.1 786.7 L493.2 790.6 L489.3 793.2 L484.1 790.6 L478.9 788.6 L475.0 785.4 L473.7 780.2Z" fill="#0b2363" stroke="#0b2363" stroke-width="0.6"/>
<path d="M495.7 775.6 L503.5 769.8 L508.7 769.8 L513.9 777.6 L512.6 782.8 L503.5 784.1 L495.1 784.7" fill="none" stroke="#4b5563" stroke-width="0.9"/>
<path d="M495.1 786.7 L503.5 784.1 L512.6 782.8 L521.7 784.1 L529.4 789.3 L533.3 794.4 L532.0 799.6 L525.6 802.2 L521.7 804.8" fill="none" stroke="#4b5563" stroke-width="0.9"/>
<path d="M506.1 802.2 L508.7 798.3 L515.2 797.0 L521.7 799.6" fill="none" stroke="#4b5563" stroke-width="0.9"/>
<path d="M433.6 838.7 L434.4 847.3 L426.5 850.5 L418.6 857.5 L417.0 861.5" fill="none" stroke="#4b5563" stroke-width="0.9"/>
<path d="M417.0 861.5 L409.2 861.5 L409.2 866.2 L404.4 874.1 L401.3 877.2 L398.1 877.2" fill="none" stroke="#4b5563" stroke-width="0.9"/>
<path d="M417.8 863.8 L423.3 867.8 L424.9 891.4 L410.7 893.0 L407.6 889.8 L401.3 889.8" fill="none" stroke="#4b5563" stroke-width="0.9"/>
<path d="M417.8 863.1 L446.9 883.5 L464.3 872.5 L461.1 869.4 L461.1 852.0 L458.0 842.6 L459.5 834.7" fill="none" stroke="#4b5563" stroke-width="0.9"/>
<path d="M461.1 866.2 L467.4 872.5 L473.7 874.1 L495.7 880.4" fill="none" stroke="#4b5563" stroke-width="0.9"/>
<path d="M446.9 883.5 L446.9 893.0 L440.6 894.5" fill="none" stroke="#4b5563" stroke-width="0.9"/>
<path d="M497.3 850.5 L497.3 875.6 L495.7 880.4" fill="none" stroke="#4b5563" stroke-width="0.9"/>
<path d="M497.3 875.6 L525.6 875.6" fill="none" stroke="#4b5563" stroke-width="0.9"/>
<path d="M473.7 874.1 L475.3 883.5 L472.1 896.1 L470.6 899.3" fill="none" stroke="#4b5563" stroke-width="0.9"/>
<path d="M495.7 880.4 L495.0 889.8 L492.6 894.5 L492.6 904.0" fill="none" stroke="#4b5563" stroke-width="0.9"/>
<path d="M446.9 897.7 L458.0 897.7 L470.6 899.3 L472.1 902.4 L469.0 908.7 L461.1 913.4 L458.0 919.7 L448.5 918.1 L445.4 911.9 L445.4 904.0 L446.9 897.7" fill="none" stroke="#4b5563" stroke-width="0.9"/>
<path d="M398.1 889.8 L406.0 889.8 L409.2 894.5 L406.0 897.7" fill="none" stroke="#4b5563" stroke-width="0.9"/>
<path d="M404.4 899.3 L413.9 900.8 L418.6 905.6 L417.0 911.9" fill="none" stroke="#4b5563" stroke-width="0.9"/>
<path d="M418.6 905.6 L429.6 904.0 L432.8 902.4 L439.1 897.7 L446.9 897.7" fill="none" stroke="#4b5563" stroke-width="0.9"/>
<path d="M426.5 897.7 L432.8 893.0 L440.6 894.5 L446.9 897.7" fill="none" stroke="#4b5563" stroke-width="0.9"/>
<path d="M431.2 904.0 L432.0 915.0" fill="none" stroke="#4b5563" stroke-width="0.9"/>
<path d="M439.1 904.0 L439.9 915.0" fill="none" stroke="#4b5563" stroke-width="0.9"/>
<path d="M442.2 905.6 L442.2 913.4" fill="none" stroke="#4b5563" stroke-width="0.9"/>
<path d="M470.6 899.3 L473.7 911.9 L483.1 918.1 L492.6 915.0 L498.9 913.4 L505.2 907.1 L514.6 904.0" fill="none" stroke="#4b5563" stroke-width="0.9"/>
<path d="M492.6 904.0 L498.9 907.1 L505.2 908.7 L514.6 905.6 L517.8 908.7 L517.8 918.1 L511.5 919.7" fill="none" stroke="#4b5563" stroke-width="0.9"/>
<path d="M517.8 893.0 L525.6 889.8 L530.4 896.1 L536.7 899.3 L546.1 902.4 L550.8 908.7 L541.4 918.1 L533.5 921.3 L520.9 918.1 L517.8 908.7" fill="none" stroke="#4b5563" stroke-width="0.9"/>
<path d="M525.6 875.6 L527.2 886.7 L525.6 889.8" fill="none" stroke="#4b5563" stroke-width="0.9"/>
<path d="M461.1 924.4 L464.3 924.4 L469.0 927.6 L473.7 930.7" fill="none" stroke="#4b5563" stroke-width="0.9"/>
<path d="M483.1 918.1 L489.4 922.9 L505.2 919.7 L511.5 919.7 L508.3 927.6 L508.3 940.0" fill="none" stroke="#4b5563" stroke-width="0.9"/>
<path d="M511.5 919.7 L520.9 921.3 L520.9 930.7 L514.6 933.9" fill="none" stroke="#4b5563" stroke-width="0.9"/>
<path d="M536.7 921.3 L536.7 930.7" fill="none" stroke="#4b5563" stroke-width="0.9"/>
<path d="M467.2 943.4 L476.4 943.4 L479.4 947.5 L485.6 946.5 L490.6 947.5 L491.2 955.6 L495.7 956.7 L501.9 958.7 L505.9 958.7 L507.5 960.7" fill="none" stroke="#4b5563" stroke-width="0.9"/>
<path d="M491.2 955.6 L494.7 957.7 L494.7 959.7 L490.6 960.7 L490.6 968.9 L492.7 971.9" fill="none" stroke="#4b5563" stroke-width="0.9"/>
<path d="M465.7 970.9 L482.5 971.9 L492.7 972.5 L497.8 972.5" fill="none" stroke="#4b5563" stroke-width="0.9"/>
<path d="M492.7 972.5 L497.8 972.5 L501.9 973.0 L510.0 966.9 L516.1 963.8 L517.1 962.8" fill="none" stroke="#4b5563" stroke-width="0.9"/>
<path d="M505.9 958.7 L505.4 950.6 L510.0 949.5 L516.1 951.6 L517.1 962.8" fill="none" stroke="#4b5563" stroke-width="0.9"/>
<path d="M517.1 952.6 L520.2 953.6 L520.2 962.8 L523.2 966.9 L522.2 969.9 L519.2 966.9 L518.1 963.8" fill="none" stroke="#4b5563" stroke-width="0.9"/>
<path d="M520.2 957.7 L528.3 956.7 L534.4 954.6" fill="none" stroke="#4b5563" stroke-width="0.9"/>
<path d="M510.0 949.5 L508.0 943.4 L509.0 933.2 L518.1 932.2 L526.3 936.3 L531.4 941.4" fill="none" stroke="#4b5563" stroke-width="0.9"/>
<path d="M497.8 972.5 L501.9 979.1 L505.9 983.1 L512.0 984.2 L516.1 980.1 L516.1 968.9 L510.0 966.9" fill="none" stroke="#4b5563" stroke-width="0.9"/>
<path d="M487.6 973.0 L486.6 983.1 L485.6 991.3 L487.6 995.4 L492.7 992.3 L497.8 992.3 L501.9 987.2 L508.0 983.7" fill="none" stroke="#4b5563" stroke-width="0.9"/>
<path d="M487.6 973.0 L487.6 983.1 L485.6 983.1 L485.6 1000.5 L481.5 1001.5 L478.4 1001.5" fill="none" stroke="#4b5563" stroke-width="0.9"/>
<path d="M512.0 984.2 L514.1 991.3 L513.1 995.4 L516.1 993.3" fill="none" stroke="#4b5563" stroke-width="0.9"/>
<path d="M502.9 1003.5 L505.9 1001.5 L508.0 1003.5 L504.9 1006.6 L502.9 1003.5" fill="none" stroke="#4b5563" stroke-width="0.9"/>
<path d="M511.5 993.8 L514.1 993.3 L514.6 996.4 L512.0 996.9 L511.5 993.8" fill="none" stroke="#4b5563" stroke-width="0.9"/>
<path d="M461.1 925.1 L468.2 924.1 L475.4 925.1 L480.5 920.0" fill="none" stroke="#4b5563" stroke-width="0.9"/>
<path d="M465.2 936.3 L472.3 935.3 L472.3 930.2 L470.3 926.1" fill="none" stroke="#4b5563" stroke-width="0.9"/>
<path d="M468.2 941.4 L475.4 940.4 L477.4 936.3 L479.4 930.2 L481.5 920.0" fill="none" stroke="#4b5563" stroke-width="0.9"/>
<path d="M535.5 920.0 L535.5 932.2 L531.4 941.4" fill="none" stroke="#4b5563" stroke-width="0.9"/>
<path d="M518.1 932.2 L520.2 926.1 L520.2 920.0" fill="none" stroke="#4b5563" stroke-width="0.9"/>
<path d="M510.0 920.0 L509.0 932.2" fill="none" stroke="#4b5563" stroke-width="0.9"/>
<path d="M524.3 851.7 L538.1 849.4 L549.7 856.3 L556.7 865.6" fill="none" stroke="#4b5563" stroke-width="0.9"/>
<path d="M547.4 895.6 L556.7 886.4 L570.6 879.4" fill="none" stroke="#4b5563" stroke-width="0.9"/>
<path d="M264.3 912.6 L273.5 917.2 L278.1 926.5 L292.0 921.9 L294.4 912.6" fill="none" stroke="#4b5563" stroke-width="0.9"/>
<path d="M292.0 921.9 L296.7 912.6" fill="none" stroke="#4b5563" stroke-width="0.9"/>
<path d="M301.3 917.2 L302.5 924.2" fill="none" stroke="#4b5563" stroke-width="0.9"/>
<path d="M308.2 917.2 L309.4 925.3" fill="none" stroke="#4b5563" stroke-width="0.9"/>
<path d="M245.7 928.8 L255.0 926.5 L259.6 931.1 L255.0 938.1 L246.9 940.4" fill="none" stroke="#4b5563" stroke-width="0.9"/>
<path d="M255.0 938.1 L264.3 935.7 L263.1 946.2 L268.9 954.3 L273.5 956.6 L282.8 953.1 L292.0 961.2 L296.7 965.8 L300.1 972.8 L308.2 982.0 L308.2 993.6 L301.3 995.9 L301.3 1005.2 L308.2 1007.5 L312.9 1012.1" fill="none" stroke="#4b5563" stroke-width="0.9"/>
<path d="M270.0 972.8 L272.4 986.7 L271.2 1005.2 L268.9 1023.7 L266.6 1039.9 L264.3 1060.7 L268.9 1076.9 L274.7 1076.9" fill="none" stroke="#4b5563" stroke-width="0.9"/>
<path d="M273.5 956.6 L274.7 972.8 L280.5 984.4 L289.7 982.0" fill="none" stroke="#4b5563" stroke-width="0.9"/>
<path d="M289.7 977.4 L299.0 979.7 L305.9 986.7 L309.4 993.6" fill="none" stroke="#4b5563" stroke-width="0.9"/>
<path d="M272.4 986.7 L282.8 984.4 L289.7 982.0" fill="none" stroke="#4b5563" stroke-width="0.9"/>
<path d="M222.6 879.0 L227.2 889.4" fill="none" stroke="#4b5563" stroke-width="0.9"/>
<path d="M229.5 887.1 L238.8 896.4" fill="none" stroke="#4b5563" stroke-width="0.9"/>
<path d="M231.9 894.1 L236.5 903.3" fill="none" stroke="#4b5563" stroke-width="0.9"/>
<path d="M549.4 793.3 L557.8 785.9 L567.0 787.8 L574.4 789.6 L583.7 787.8 L583.7 777.6 L591.1 774.8 L604.1 771.1 L607.8 773.9 L615.2 775.7 L620.7 774.8 L624.4 782.2 L630.0 787.8 L637.4 790.6 L645.7 794.3 L641.1 798.9 L637.4 802.6 L635.6 806.3 L630.0 810.0 L630.0 815.6 L618.9 815.6 L609.6 819.3 L604.1 823.0 L600.4 824.8 L594.8 821.1 L591.1 815.6 L585.6 813.7 L578.1 810.0 L572.6 808.1 L570.7 815.6 L565.2 817.4" fill="none" stroke="#4b5563" stroke-width="0.9"/>
<path d="M645.7 794.3 L655.9 789.6 L667.0 790.6 L672.6 785.0 L678.1 785.9 L685.6 789.6 L696.7 793.3 L705.9 795.2 L713.3 793.3 L715.2 797.0 L722.6 800.7 L715.2 804.4 L707.8 806.3 L704.1 810.0 L696.7 813.7 L689.3 819.3 L678.1 817.4 L668.9 813.7 L659.6 810.0 L655.9 806.3 L652.2 800.7 L648.5 797.0 L645.7 794.3" fill="none" stroke="#4b5563" stroke-width="0.9"/>
<path d="M713.3 793.3 L718.9 789.6 L724.4 780.4 L730.0 778.5" fill="none" stroke="#4b5563" stroke-width="0.9"/>
<path d="M572.6 808.1 L570.7 819.3 L578.1 823.0 L583.7 826.7 L585.6 834.1" fill="none" stroke="#4b5563" stroke-width="0.9"/>
<path d="M567.0 821.1 L576.3 830.4 L585.6 834.1 L591.1 834.1 L596.7 832.2 L602.2 830.4 L607.8 826.7" fill="none" stroke="#4b5563" stroke-width="0.9"/>
<path d="M583.7 837.8 L585.6 848.9 L583.7 856.3 L589.3 858.1 L596.7 854.4 L604.1 848.9 L607.8 845.2 L611.5 837.8 L617.0 835.9 L613.3 830.4 L607.8 832.2 L602.2 830.4 L594.8 834.1 L589.3 835.9 L583.7 837.8" fill="none" stroke="#4b5563" stroke-width="0.9"/>
<path d="M543.0 815.6 L546.7 823.0 L548.5 830.4 L548.5 837.8 L550.4 845.2 L554.1 854.4 L563.3 860.0 L570.7 863.7 L578.1 867.4 L585.6 867.4 L585.6 856.3 L583.7 837.8" fill="none" stroke="#4b5563" stroke-width="0.9"/>
<path d="M585.6 867.4 L600.4 871.1 L604.1 869.3 L604.1 863.7 L607.8 860.0 L613.3 856.3 L617.0 848.9 L615.2 843.3 L620.7 841.5 L618.9 835.9" fill="none" stroke="#4b5563" stroke-width="0.9"/>
<path d="M618.9 835.9 L622.6 839.6 L626.3 848.9 L630.0 854.4 L637.4 858.1 L648.5 860.9 L655.9 860.0 L663.3 858.1 L670.7 860.0 L672.6 865.6 L674.4 871.1" fill="none" stroke="#4b5563" stroke-width="0.9"/>
<path d="M630.0 854.4 L633.7 858.1 L648.5 862.8 L650.4 860.0" fill="none" stroke="#4b5563" stroke-width="0.9"/>
<path d="M655.9 863.7 L659.6 871.1 L659.6 876.7 L667.0 880.4 L670.7 889.6 L672.6 897.0" fill="none" stroke="#4b5563" stroke-width="0.9"/>
<path d="M674.4 871.1 L681.9 874.8 L689.3 874.8 L696.7 878.5" fill="none" stroke="#4b5563" stroke-width="0.9"/>
<path d="M530.0 813.7 L541.1 815.6 L548.5 817.4" fill="none" stroke="#4b5563" stroke-width="0.9"/>
<path d="M530.0 847.0 L541.1 850.7 L550.4 856.3" fill="none" stroke="#4b5563" stroke-width="0.9"/>
<path d="M554.1 856.3 L559.6 865.6 L565.2 869.3 L570.7 867.4 L574.4 874.8" fill="none" stroke="#4b5563" stroke-width="0.9"/>
<path d="M533.7 830.4 L541.1 837.8 L546.7 841.5" fill="none" stroke="#4b5563" stroke-width="0.9"/>
<path d="M541.1 815.6 L543.0 826.7 L533.7 830.4" fill="none" stroke="#4b5563" stroke-width="0.9"/>
<path d="M677.2 875.0 L685.6 872.2 L693.9 877.8" fill="none" stroke="#4b5563" stroke-width="0.9"/>
<path d="M674.4 888.9 L682.8 891.7 L691.1 894.4" fill="none" stroke="#4b5563" stroke-width="0.9"/>
<path d="M771.7 936.1 L773.9 951.4" fill="none" stroke="#4b5563" stroke-width="0.9"/>
<path d="M685.6 891.7 L691.1 883.3 L696.7 883.3" fill="none" stroke="#4b5563" stroke-width="0.9"/>
<path d="M700.0 794.1 L707.4 790.4 L713.0 794.1 L720.4 790.4 L724.1 797.8 L718.5 803.3 L707.4 807.0 L700.0 812.6" fill="none" stroke="#4b5563" stroke-width="0.9"/>
<path d="M700.0 777.4 L711.1 775.6 L722.2 779.3 L731.5 779.3" fill="none" stroke="#4b5563" stroke-width="0.9"/>
<path d="M720.4 790.4 L724.1 781.1 L729.6 779.3 L737.0 781.1 L740.7 790.4 L748.1 795.9 L755.6 797.8 L759.3 798.7 L755.6 807.0 L751.9 814.4 L750.0 816.3" fill="none" stroke="#4b5563" stroke-width="0.9"/>
<path d="M867.6 699.6 L867.6 723.7" fill="none" stroke="#4b5563" stroke-width="1.6"/>
<path d="M888.0 731.0 L893.0 733.0 L891.0 734.0Z" fill="#2367ad" stroke="#2367ad" stroke-width="0.8"/>
</g></svg>

<div class="abs zb" style="top:626px"></div>
<div class="abs zb" style="top:788px;background:#f3f4f6;border-color:#e5e7eb"></div>
<div class="abs zb" style="top:950px"></div>
<svg class="abs" style="left:906px;top:626px" width="137" height="461" viewBox="0 0 137 461" fill="none" stroke="#4b5563" stroke-width="3.3" stroke-linecap="round" stroke-linejoin="round">
  <circle cx="66.4" cy="66.2" r="19.7"/><path d="M81 81 L92.4 91.8 M66.4 57.9 v16.9 M57.7 66.2 h17.7"/>
  <circle cx="66.4" cy="228.3" r="19.7"/><path d="M81 243 L92.4 253.8 M57.7 228.3 h17.7"/>
  <path d="M59.7 369.3 H45.4 V383 M45.4 369.3 L61.8 385.6 M78 369.3 H92.4 V383 M92.4 369.3 L76 385.6 M45.4 402.4 V415.6 H59.7 M45.4 415.6 L61.8 399.9 M92.4 402.4 V415.6 H78 M92.4 415.6 L76 399.9"/>
</svg>

<div id="legtitle" class="abs">NATO Spending as % of GDP</div>
<div class="abs dot" style="left:107px;top:1202px;background:#edf8c1"></div>
<svg class="abs" style="left:156px;top:1205.4px" width="13" height="30" viewBox="0 0 13 30"><path d="M8 0 H12.2 V29.9 H8 V5.6 L1.8 10.6 L0 8.4 V7.6 L8 0 Z" fill="#475569"/></svg>
<div class="abs lt" style="left:170.9px;top:1195.5px">.5%</div>
<div class="abs dot" style="left:297px;top:1202px;background:#b9e3b7"></div>
<div class="abs lt" style="left:347px;top:1195.5px">2%</div>
<div class="abs dot" style="left:460px;top:1202px;background:#67c2bf"></div>
<div class="abs lt" style="left:509px;top:1195.5px">2.5%</div>
<div class="abs dot" style="left:659px;top:1202px;background:#2991c0"></div>
<div class="abs lt" style="left:707px;top:1195.5px">3%</div>
<div class="abs dot" style="left:823px;top:1202px;background:#2258a6"></div>
<div class="abs lt" style="left:871px;top:1195.5px">3.5%</div>
<div class="abs dot" style="left:482px;top:1268px;background:#1b2a7c"></div>
<div class="abs lt" style="left:531px;top:1261.5px">4%</div>

<div class="abs card" style="left:36px;top:1415px"></div>
<div class="abs" style="left:87px;top:1479.0px;line-height:0"><svg width="72" height="45" viewBox="0 0 72 45"><rect width="72" height="22.5" fill="#fff"/><rect y="22.5" width="72" height="22.5" fill="#dc143c"/></svg></div>
<div class="abs cname" style="left:182px;top:1477.8px">Poland</div>
<div class="abs cval" style="left:88.1px;top:1550.4px">4</div>
<div class="abs" style="left:129.3px;top:1598.6px;width:9.7px;height:9.7px;border-radius:50%;background:#111827"></div>
<svg class="abs" style="left:141.4px;top:1562.6px" width="19" height="46" viewBox="0 0 19 46"><path d="M11.2 0 H18 V45.7 H11.2 V8.6 L2.6 17.3 L0 15.6 V11.6 Z" fill="#111827"/></svg>
<div class="abs cval" style="left:164.6px;top:1550.4px">2</div>
<div class="abs cval" style="left:206.8px;top:1550.4px;transform:scaleX(0.867);transform-origin:0 0">%</div>
<div class="abs card" style="left:564px;top:1415px"></div>
<div class="abs" style="left:615px;top:1478.5px;line-height:0"><svg width="72" height="46" viewBox="0 0 72 46"><rect width="72" height="15.4" fill="#4891d9"/><rect y="15.4" width="72" height="15.4" fill="#000"/><rect y="30.8" width="72" height="15.2" fill="#fff"/></svg></div>
<div class="abs cname" style="left:710px;top:1477.8px">Estonia</div>
<div class="abs cval" style="left:616.2px;top:1550.3px">3</div>
<div class="abs" style="left:656.6px;top:1598.6px;width:9.6px;height:9.6px;border-radius:50%;background:#111827"></div>
<div class="abs cval" style="left:672.2px;top:1550.3px">4</div>
<div class="abs cval" style="left:711.5px;top:1550.3px">3</div>
<div class="abs cval" style="left:753.8px;top:1550.3px;transform:scaleX(0.867);transform-origin:0 0">%</div>
<div class="abs card" style="left:36px;top:1721px"></div>
<div class="abs" style="left:87px;top:1788.5px;line-height:0"><svg width="72" height="38" viewBox="0 0 72 38"><rect y="0.000" width="72" height="2.973" fill="#b22234"/><rect y="2.923" width="72" height="2.973" fill="#fff"/><rect y="5.846" width="72" height="2.973" fill="#b22234"/><rect y="8.769" width="72" height="2.973" fill="#fff"/><rect y="11.692" width="72" height="2.973" fill="#b22234"/><rect y="14.615" width="72" height="2.973" fill="#fff"/><rect y="17.538" width="72" height="2.973" fill="#b22234"/><rect y="20.462" width="72" height="2.973" fill="#fff"/><rect y="23.385" width="72" height="2.973" fill="#b22234"/><rect y="26.308" width="72" height="2.973" fill="#fff"/><rect y="29.231" width="72" height="2.973" fill="#b22234"/><rect y="32.154" width="72" height="2.973" fill="#fff"/><rect y="35.077" width="72" height="2.973" fill="#b22234"/><rect width="29" height="20.5" fill="#3c3b6e"/><circle cx="2.40" cy="1.60" r="0.75" fill="#fff"/><circle cx="7.20" cy="1.60" r="0.75" fill="#fff"/><circle cx="12.00" cy="1.60" r="0.75" fill="#fff"/><circle cx="16.80" cy="1.60" r="0.75" fill="#fff"/><circle cx="21.60" cy="1.60" r="0.75" fill="#fff"/><circle cx="26.40" cy="1.60" r="0.75" fill="#fff"/><circle cx="4.80" cy="3.75" r="0.75" fill="#fff"/><circle cx="9.60" cy="3.75" r="0.75" fill="#fff"/><circle cx="14.40" cy="3.75" r="0.75" fill="#fff"/><circle cx="19.20" cy="3.75" r="0.75" fill="#fff"/><circle cx="24.00" cy="3.75" r="0.75" fill="#fff"/><circle cx="2.40" cy="5.90" r="0.75" fill="#fff"/><circle cx="7.20" cy="5.90" r="0.75" fill="#fff"/><circle cx="12.00" cy="5.90" r="0.75" fill="#fff"/><circle cx="16.80" cy="5.90" r="0.75" fill="#fff"/><circle cx="21.60" cy="5.90" r="0.75" fill="#fff"/><circle cx="26.40" cy="5.90" r="0.75" fill="#fff"/><circle cx="4.80" cy="8.05" r="0.75" fill="#fff"/><circle cx="9.60" cy="8.05" r="0.75" fill="#fff"/><circle cx="14.40" cy="8.05" r="0.75" fill="#fff"/><circle cx="19.20" cy="8.05" r="0.75" fill="#fff"/><circle cx="24.00" cy="8.05" r="0.75" fill="#fff"/><circle cx="2.40" cy="10.20" r="0.75" fill="#fff"/><circle cx="7.20" cy="10.20" r="0.75" fill="#fff"/><circle cx="12.00" cy="10.20" r="0.75" fill="#fff"/><circle cx="16.80" cy="10.20" r="0.75" fill="#fff"/><circle cx="21.60" cy="10.20" r="0.75" fill="#fff"/><circle cx="26.40" cy="10.20" r="0.75" fill="#fff"/><circle cx="4.80" cy="12.35" r="0.75" fill="#fff"/><circle cx="9.60" cy="12.35" r="0.75" fill="#fff"/><circle cx="14.40" cy="12.35" r="0.75" fill="#fff"/><circle cx="19.20" cy="12.35" r="0.75" fill="#fff"/><circle cx="24.00" cy="12.35" r="0.75" fill="#fff"/><circle cx="2.40" cy="14.50" r="0.75" fill="#fff"/><circle cx="7.20" cy="14.50" r="0.75" fill="#fff"/><circle cx="12.00" cy="14.50" r="0.75" fill="#fff"/><circle cx="16.80" cy="14.50" r="0.75" fill="#fff"/><circle cx="21.60" cy="14.50" r="0.75" fill="#fff"/><circle cx="26.40" cy="14.50" r="0.75" fill="#fff"/><circle cx="4.80" cy="16.65" r="0.75" fill="#fff"/><circle cx="9.60" cy="16.65" r="0.75" fill="#fff"/><circle cx="14.40" cy="16.65" r="0.75" fill="#fff"/><circle cx="19.20" cy="16.65" r="0.75" fill="#fff"/><circle cx="24.00" cy="16.65" r="0.75" fill="#fff"/><circle cx="2.40" cy="18.80" r="0.75" fill="#fff"/><circle cx="7.20" cy="18.80" r="0.75" fill="#fff"/><circle cx="12.00" cy="18.80" r="0.75" fill="#fff"/><circle cx="16.80" cy="18.80" r="0.75" fill="#fff"/><circle cx="21.60" cy="18.80" r="0.75" fill="#fff"/><circle cx="26.40" cy="18.80" r="0.75" fill="#fff"/></svg></div>
<div class="abs cname" style="left:182px;top:1783.8px">United States</div>
<div class="abs cval" style="left:87.9px;top:1856.3px">3</div>
<div class="abs" style="left:128.7px;top:1905.3px;width:8.9px;height:8.9px;border-radius:50%;background:#111827"></div>
<div class="abs cval" style="left:141.9px;top:1856.3px">3</div>
<div class="abs cval" style="left:181.1px;top:1856.3px">8</div>
<div class="abs cval" style="left:222.8px;top:1856.3px;transform:scaleX(0.867);transform-origin:0 0">%</div>
<div class="abs card" style="left:564px;top:1721px"></div>
<div class="abs" style="left:615px;top:1771.6px;line-height:0"><svg width="72" height="72" viewBox="0 0 72 72"><rect width="72" height="72" fill="#9e3039"/><rect y="28.8" width="72" height="14.4" fill="#fff"/></svg></div>
<div class="abs cname" style="left:710px;top:1783.8px">Latvia</div>
<div class="abs cval" style="left:616.0px;top:1856.5px">3</div>
<div class="abs" style="left:656.5px;top:1905.2px;width:9.2px;height:9.2px;border-radius:50%;background:#111827"></div>
<svg class="abs" style="left:668.0px;top:1868.7px" width="19" height="46" viewBox="0 0 19 46"><path d="M11.2 0 H18 V45.7 H11.2 V8.6 L2.6 17.3 L0 15.6 V11.6 Z" fill="#111827"/></svg>
<div class="abs cval" style="left:692.8px;top:1856.5px">5</div>
<div class="abs cval" style="left:732.3px;top:1856.5px;transform:scaleX(0.867);transform-origin:0 0">%</div>
<div class="abs card" style="left:36px;top:2027px"></div>
<div class="abs" style="left:87px;top:2090.0px;line-height:0"><svg width="72" height="48" viewBox="0 0 72 48"><rect y="0.000" width="72" height="5.383" fill="#1560ad"/><rect y="5.333" width="72" height="5.383" fill="#fff"/><rect y="10.667" width="72" height="5.383" fill="#1560ad"/><rect y="16.000" width="72" height="5.383" fill="#fff"/><rect y="21.333" width="72" height="5.383" fill="#1560ad"/><rect y="26.667" width="72" height="5.383" fill="#fff"/><rect y="32.000" width="72" height="5.383" fill="#1560ad"/><rect y="37.333" width="72" height="5.383" fill="#fff"/><rect y="42.667" width="72" height="5.383" fill="#1560ad"/><rect width="26.7" height="26.7" fill="#1560ad"/><rect x="10.67" width="5.33" height="26.7" fill="#fff"/><rect y="10.67" width="26.7" height="5.33" fill="#fff"/></svg></div>
<div class="abs cname" style="left:182px;top:2089.8px">Greece</div>
<div class="abs cval" style="left:87.9px;top:2162.3px">3</div>
<div class="abs" style="left:128.7px;top:2211.3px;width:8.9px;height:8.9px;border-radius:50%;background:#111827"></div>
<div class="abs cval" style="left:141.1px;top:2162.3px">0</div>
<div class="abs cval" style="left:181.1px;top:2162.3px">8</div>
<div class="abs cval" style="left:223.2px;top:2162.3px;transform:scaleX(0.867);transform-origin:0 0">%</div>

<div id="nav" class="abs"></div>
<svg class="abs" style="left:0;top:2267px" width="1080" height="133" viewBox="0 0 1080 133" fill="none" stroke="#9e9e9e" stroke-width="3.2" stroke-linecap="round" stroke-linejoin="round">
  <path d="M260 50.5 h35 M260 67 h35 M260 84 h35"/>
  <rect x="528.5" y="50" width="34" height="34" rx="8"/>
  <path d="M827 51 v32 q0 3 -3 1.5 l-28 -14 q-2.5 -1.5 0 -3 l28 -14 q3 -1.5 3 1.5z"/>
</svg>
</body></html>
